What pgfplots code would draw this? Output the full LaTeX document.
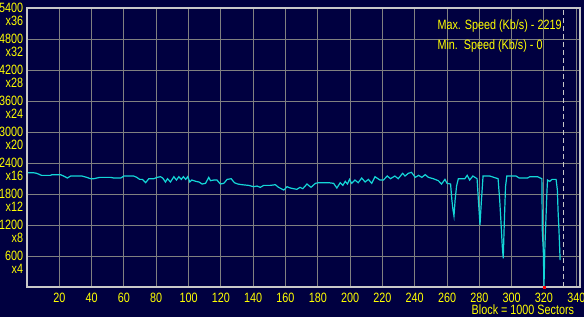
\documentclass[border=0pt]{standalone}
\usepackage{fontspec}
\setmainfont[FakeStretch=0.8]{Liberation Sans}
\usepackage{pgfplots}
\pgfplotsset{compat=1.18}
\definecolor{bg}{RGB}{0,0,64}
\definecolor{ln}{RGB}{20,215,215}
\definecolor{yl}{RGB}{255,255,0}
\definecolor{gr}{RGB}{128,128,128}
\definecolor{bd}{RGB}{200,200,200}
\begin{document}
\begin{tikzpicture}[x=1pt,y=1pt]
\fill[bg] (0,0) rectangle (584,317);
\useasboundingbox (0,0) rectangle (584,317);
\begin{axis}[
  at={(27pt,30pt)}, anchor=south west,
  scale only axis, width=552.5pt, height=279pt,
  xmin=0, xmax=342, ymin=0, ymax=5400,
  xtick={20,40,...,340},
  xticklabels={20,40,60,80,100,120,140,160,180,200,220,240,260,280,300,320,340},
  ytick={600,1200,...,5400},
  yticklabels={600\\x4,1200\\x8,1800\\x12,2400\\x16,3000\\x20,3600\\x24,4200\\x28,4800\\x32,5400\\x36},
  major tick length=0pt,
  grid=major,
  major grid style={gr, line width=1pt},
  axis line style={bd, line width=2pt},
  axis on top=false,
  xticklabel style={text=yl, font=\fontsize{13.5}{12.4}\selectfont, anchor=base, inner sep=0pt, yshift=-15.2pt},
  yticklabel style={text=yl, font=\fontsize{13.5}{12.4}\selectfont, align=right, anchor=north east, inner sep=0pt, xshift=-3.7pt, yshift=4.85pt},
  clip=false,
]
\addplot[ln, line width=1.2pt] coordinates {
(0.5,2212) (4,2212) (6,2200) (9,2161) (14.6,2161) (15.3,2174) (20.8,2174) (23.5,2135) (25,2109) (27,2148) (34,2148) (37,2122) (39.4,2096) (41.4,2096) (45,2122) (51.7,2122) (53.8,2109) (58,2109) (60,2148) (66,2148) (68,2122) (69.7,2083) (71.5,2083) (73.4,2019) (75.4,2096) (78.5,2096) (80.6,2122)
(82.6,2135) (84,2109) (85.7,2032) (87,2096) (88.8,2032) (90.9,2135) (92.5,2070) (94,2135) (95.5,2083) (96.8,2135) (98.2,2083) (99.5,2135) (100.8,2032) (102,2070) (104.5,2045) (106.5,2032) (108.4,1993) (110.5,2006) (112.5,2122) (113.6,2058) (115.6,2070) (117.6,2070) (119.7,1993) (121.8,2006) (123.9,2083) (126.4,2096) (128.4,2019) (130.5,1993) (133,1980) (137.2,1967) (140.3,1941) (142.4,1954) (144.4,1929) (146.5,1967) (150.6,1967) (153.7,1980) (155.7,1929) (159,1877) (161,1941) (163,1916) (165,1903) (167,1890) (169,1929) (170.7,1903) (173.3,1993) (175.8,1929) (178.5,2006) (180.5,2019) (186.7,2019) (189.8,2006) (191.8,1916) (193.9,2019) (195.5,1967) (197,2045) (198.4,1993) (199.6,2083) (201,2006) (203,2070) (205,2019) (207.2,2109) (209.3,2032) (211.3,2083) (213.4,2006) (215.4,2135) (218.5,2070) (220.6,2070) (223,2148) (225,2096) (227.7,2148) (229.8,2096) (232.5,2200) (234,2148) (236,2200) (238,2219) (240.3,2122) (242.4,2161) (244.4,2122) (246.5,2174) (248.5,2122) (251.5,2096) (254.6,2058) (256.6,1993) (258.7,2083) (260,2006) (262.2,1993) (263,1683) (263.7,1490) (264.3,1374) (265,1683) (265.9,1954) (267,2096) (271,2096) (272.5,2161) (274,2070) (276,2148) (278.6,2096) (279.4,1683) (280,1400) (280.4,1200) (281.3,1683) (282.3,2148) (286.4,2148) (291.6,2096) (292.6,1683) (293.6,1142) (294.2,780) (294.8,555) (295.4,1200) (296.2,1941) (297,2148) (302.7,2148) (304.7,2109) (309.8,2109) (311.3,2135) (316,2135) (318.7,2096) (319,1070) (319.6,700) (320,0) (320.6,800) (321.2,1296) (321.8,1813) (322.2,2070) (323.6,2045) (325,2083) (327.5,2083) (328.3,1877) (328.7,1490) (329.3,1090) (330,522)
};
\addplot[bd, line width=1pt, dash pattern=on 5pt off 3pt] coordinates {(332.2,0) (332.2,5400)};
\addplot[only marks, mark=square*, mark size=1pt, red] coordinates {(320,0)};
\end{axis}
\node[anchor=base west, inner sep=0pt, text=yl, font=\fontsize{13.5}{12.4}\selectfont] at (437.3,287.15) {Max. Speed (Kb/s) - 2219};
\node[anchor=base west, inner sep=0pt, text=yl, font=\fontsize{13.5}{12.4}\selectfont] at (437.3,267.85) {Min.\ \ Speed (Kb/s) - 0};
\node[anchor=base east, inner sep=0pt, text=yl, font=\fontsize{13.5}{12.4}\selectfont] at (574.3,2.8) {Block = 1000 Sectors};
\end{tikzpicture}
\end{document}
